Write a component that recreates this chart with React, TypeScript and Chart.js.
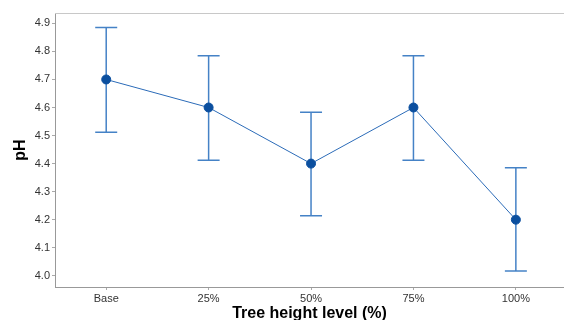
import React, { useEffect, useRef } from "react";
import { Chart, registerables } from "chart.js";

Chart.register(...registerables);

const categories = ["Base", "25%", "50%", "75%", "100%"];
const meanPH = [4.7, 4.6, 4.4, 4.6, 4.2];
const upperPH = [4.885, 4.785, 4.583, 4.785, 4.385];
const lowerPH = [4.512, 4.412, 4.214, 4.412, 4.017];
const yTickValues = [4.0, 4.1, 4.2, 4.3, 4.4, 4.5, 4.6, 4.7, 4.8, 4.9];

const FONT = "'Liberation Sans', Arial, Helvetica, sans-serif";

const errorBarPlugin = {
  id: "errorBars",
  beforeDatasetsDraw(chart: any) {
    const { ctx, scales } = chart;
    const xs = scales.x;
    const ys = scales.y;
    ctx.save();
    ctx.strokeStyle = "#4582c6";
    ctx.lineWidth = 1.5;
    for (let i = 0; i < categories.length; i++) {
      const x = xs.getPixelForValue(i);
      const yt = ys.getPixelForValue(upperPH[i]);
      const yb = ys.getPixelForValue(lowerPH[i]);
      ctx.beginPath();
      ctx.moveTo(x, yt);
      ctx.lineTo(x, yb);
      ctx.moveTo(x - 11, yt);
      ctx.lineTo(x + 11, yt);
      ctx.moveTo(x - 11, yb);
      ctx.lineTo(x + 11, yb);
      ctx.stroke();
    }
    ctx.restore();
  },
};

const topBorderPlugin = {
  id: "topBorder",
  afterDraw(chart: any) {
    const { ctx, chartArea } = chart;
    ctx.save();
    ctx.strokeStyle = "#c8c8c8";
    ctx.lineWidth = 1;
    ctx.beginPath();
    ctx.moveTo(chartArea.left, chartArea.top + 0.5);
    ctx.lineTo(chartArea.right, chartArea.top + 0.5);
    ctx.stroke();
    ctx.restore();
  },
};

export default function App() {
  const ref = useRef<HTMLCanvasElement | null>(null);

  useEffect(() => {
    if (!ref.current) return;
    const chart = new Chart(ref.current, {
      type: "line",
      data: {
        datasets: [
          {
            data: meanPH.map((v, i) => ({ x: i, y: v })),
            borderColor: "#2b6bb8",
            borderWidth: 1,
            pointRadius: 4.5,
            pointBackgroundColor: "#0b4f9f",
            pointBorderColor: "#0b4f9f",
            pointBorderWidth: 1,
            tension: 0,
          },
        ],
      },
      options: {
        animation: false,
        responsive: false,
        layout: { autoPadding: false, padding: { top: 13, right: 0, bottom: 0, left: 0 } },
        plugins: { legend: { display: false }, tooltip: { enabled: false } },
        scales: {
          x: {
            type: "linear",
            min: -0.5,
            max: 4.47,
            afterFit: (s: any) => {
              s.height = 33;
              s.paddingRight = 0;
              s.paddingLeft = 0;
            },
            afterBuildTicks: (s: any) => {
              s.ticks = categories.map((_, i) => ({ value: i }));
            },
            ticks: {
              callback: (v: any) => categories[v as number] ?? "",
              color: "#333",
              font: { family: FONT, size: 11 },
              padding: 2,
              maxRotation: 0,
            },
            grid: {
              drawOnChartArea: false,
              drawTicks: true,
              tickLength: 3,
              color: "#aaa",
            },
            border: { display: true, color: "#999", width: 1 },
            title: {
              display: true,
              text: "Tree height level (%)",
              color: "#000",
              font: { family: FONT, size: 16, weight: "bold", lineHeight: 1 },
              padding: { top: 0, bottom: -2 },
            },
          },
          y: {
            min: 3.96,
            max: 4.937,
            afterFit: (s: any) => {
              s.width = 55;
            },
            afterBuildTicks: (s: any) => {
              s.ticks = yTickValues.map((v) => ({ value: v }));
            },
            ticks: {
              callback: (v: any) => Number(v).toFixed(1),
              color: "#333",
              font: { family: FONT, size: 11 },
              padding: 2,
            },
            grid: {
              drawOnChartArea: false,
              drawTicks: true,
              tickLength: 3,
              color: "#aaa",
            },
            border: { display: true, color: "#999", width: 1 },
            title: {
              display: true,
              text: "pH",
              color: "#000",
              font: { family: FONT, size: 16, weight: "bold", lineHeight: 1 },
              padding: { top: 13, bottom: 0 },
            },
          },
        },
      },
      plugins: [errorBarPlugin, topBorderPlugin],
    } as any);
    return () => chart.destroy();
  }, []);

  return (
    <div style={{ position: "fixed", left: 0, top: 0, width: 564, height: 320, background: "#fff" }}>
      <canvas ref={ref} width={564} height={320} style={{ display: "block", width: 564, height: 320 }} />
    </div>
  );
}
